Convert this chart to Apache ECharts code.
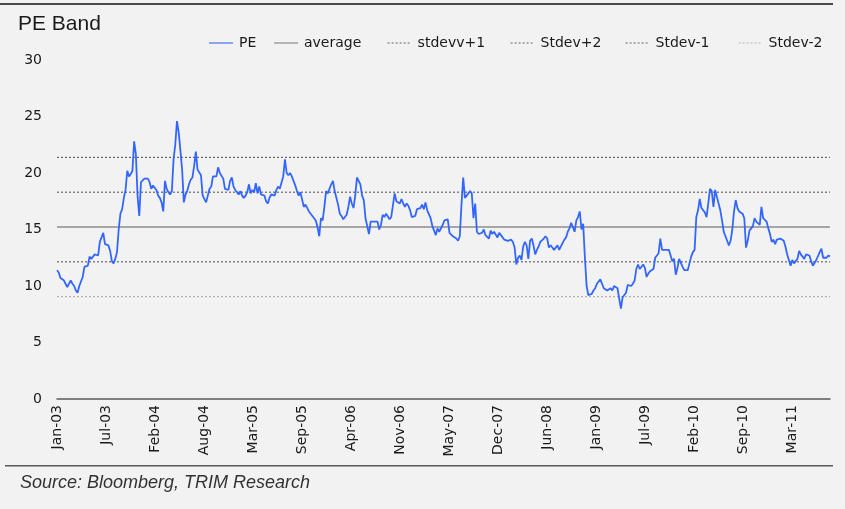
<!DOCTYPE html>
<html>
<head>
<meta charset="utf-8">
<script src="https://cdn.jsdelivr.net/npm/echarts@6/dist/echarts.min.js"></script>
<style>
html,body{margin:0;padding:0;background:#f2f2f2;}
#chart{width:845px;height:509px;}
</style>
</head>
<body>
<div id="chart"></div>
<script>
// Weekly PE readings, starting first week of Jan 2003
const peWeekly = [
11.4, 11.2, 10.7, 10.6, 10.5, 10.2, 9.9, 9.9, 10.5, 10.2,
10.0, 9.6, 9.4, 10.0, 10.0, 10.8, 11.7, 11.8, 11.8, 12.6,
12.4, 12.5, 12.8, 12.7, 12.7, 13.9, 13.8, 14.7, 13.7, 13.6,
13.6, 13.1, 12.2, 12.0, 12.4, 13.0, 15.0, 16.4, 16.8, 17.8,
18.5, 20.2, 19.7, 19.9, 20.2, 22.8, 21.7, 18.0, 16.2, 19.2,
19.3, 19.5, 19.6, 19.5, 19.2, 18.6, 18.9, 19.0, 18.5, 18.0,
17.8, 17.4, 16.6, 19.3, 18.6, 18.3, 18.1, 18.4, 21.2, 22.5,
24.6, 23.6, 22.0, 20.3, 17.4, 18.1, 18.4, 19.0,
19.4, 19.6, 20.6, 21.9, 20.3, 20.4, 19.8, 18.0, 17.9, 17.4,
17.5, 18.6, 18.8, 19.7, 19.6, 19.7, 20.5, 20.0, 20.1, 19.5,
18.6, 18.6, 18.5, 19.3, 19.6, 18.8, 18.5, 18.3, 18.1, 18.4,
18.0, 17.8, 18.0, 18.3, 19.0, 18.2, 18.5, 18.3, 19.1, 18.2,
18.8, 18.1, 18.2, 18.0, 17.5, 17.3, 17.8, 18.1, 18.2, 18.0,
18.5, 18.8, 18.6, 18.6, 19.7, 21.2, 20.0, 19.8, 20.0, 19.7,
19.6, 18.9, 18.4, 18.0, 18.3, 18.4, 17.0, 17.2, 17.2, 16.6,
16.5, 16.2, 16.0, 15.8, 15.2, 14.4,
16.0, 15.8, 17.0, 18.4, 18.2, 18.3, 19.0, 19.3, 18.4, 18.4,
17.2, 16.4, 16.2, 15.9, 16.1, 16.3, 17.0, 17.9, 17.3, 16.9,
18.0, 19.6, 19.3, 19.0, 18.0, 17.6, 16.0, 15.3, 14.6, 15.7,
15.8, 15.7, 15.6, 15.7, 15.0, 15.4, 16.3, 16.1, 16.4, 16.3,
15.9, 16.1, 16.2, 18.2, 17.5, 17.5, 17.3, 17.7, 17.3, 17.0,
17.3, 17.1, 16.7, 16.1, 16.2, 16.2, 16.8, 16.7, 16.9, 17.2,
16.8, 17.4, 16.7, 16.7, 16.0, 15.3, 15.2, 14.5, 15.1, 14.8,
14.9, 15.4, 15.8, 15.8, 15.9, 14.7,
14.6, 14.4, 14.4, 14.2, 14.0, 14.4, 17.2, 19.6, 17.8, 18.0,
18.1, 18.4, 18.2, 16.0, 17.3, 14.8, 14.6, 14.5, 14.7, 15.0,
14.5, 14.5, 14.2, 14.9, 14.6, 14.8, 14.7, 14.3, 14.7, 14.5,
14.5, 14.1, 14.1, 14.0, 13.9, 14.1, 13.9, 13.4, 11.9, 12.5,
12.7, 12.3, 13.5, 13.9, 13.6, 12.4, 14.0, 14.2, 13.6, 12.8,
13.2, 13.5, 13.9, 14.0, 14.2, 14.4, 14.2, 13.4, 13.6, 13.4,
13.2, 13.3, 13.6, 13.2, 13.5, 13.5, 14.1, 14.3, 14.8, 15.1,
15.6, 15.7, 14.8, 15.8, 16.1, 16.6,
15.0, 15.5, 12.5, 10.0, 9.2, 9.1, 9.3, 9.6, 9.8, 10.2,
10.1, 10.6, 10.2, 9.8, 9.9, 9.6, 9.5, 9.8, 9.6, 10.0,
9.9, 9.8, 9.7, 8.0, 9.0, 9.1, 9.4, 10.1, 10.0, 10.0,
10.2, 10.5, 11.5, 11.9, 11.5, 11.5, 11.9, 11.6, 10.8, 11.1,
11.3, 11.2, 11.5, 12.5, 12.6, 12.9, 14.2, 13.2, 13.2, 13.2,
13.2, 13.2, 12.7, 12.2, 12.4, 11.0, 11.6, 12.4, 12.3, 11.7,
11.4, 11.3, 11.4, 12.0, 12.6, 13.0, 13.2, 16.1, 16.7, 17.7,
16.9, 16.9, 16.5, 16.1, 16.2, 18.6,
18.4, 17.0, 18.5, 18.6, 17.3, 16.7, 15.8, 14.8, 14.8, 14.0,
13.6, 14.0, 15.0, 16.6, 17.6, 16.9, 16.6, 16.5, 16.4, 16.0,
13.4, 14.0, 14.9, 15.0, 15.3, 16.0, 15.7, 15.6, 15.4, 17.0,
16.0, 16.0, 15.7, 15.1, 14.6, 13.9, 14.1, 13.7, 14.1, 14.0,
14.2, 14.1, 14.0, 13.5, 12.8, 12.3, 11.8, 12.3, 12.0, 12.1,
12.4, 13.1, 12.8, 12.9, 12.4, 12.8, 12.8, 12.7, 12.2, 11.8,
11.9, 12.3, 12.4, 13.0, 13.3, 12.5, 12.5, 12.5, 12.7, 12.6
];

// Band levels
const averagePE = 15.22;
const stdevPlus1 = 18.30;
const stdevPlus2 = 21.38;
const stdevMinus1 = 12.14;
const stdevMinus2 = 9.06;

// X tick labels (one every ~6.6 months)
const xTickLabels = ['Jan-03','Jul-03','Feb-04','Aug-04','Mar-05','Sep-05','Apr-06','Nov-06',
  'May-07','Dec-07','Jun-08','Jan-09','Jul-09','Feb-10','Sep-10','Mar-11'];
const yTicks = [0, 5, 10, 15, 20, 25, 30];

const seriesNames = ['PE', 'average', 'stdevv+1', 'Stdev+2', 'Stdev-1', 'Stdev-2'];

const lastIdx = peWeekly.length - 1;
const tickStepWeeks = 28.62;
const FONT = 'DejaVu Sans';

function flat(v) { return [[0, v], [lastIdx, v]]; }

const chart = echarts.init(document.getElementById('chart'), null, {renderer: 'canvas'});

const legendLefts = [203, 268, 382, 505, 620, 733];
const legendLineColors = ['#8aa6f2', '#b4b4b4', '#666666', '#666666', '#666666', '#b0b0b0'];
const legends = seriesNames.map((n, i) => ({
  data: [n],
  left: legendLefts[i],
  top: 31,
  itemWidth: 24,
  itemHeight: 14,
  itemGap: 0,
  selectedMode: false,
  itemStyle: {opacity: 0},
  lineStyle: {color: legendLineColors[i], width: i < 2 ? 2 : 1.2},
  textStyle: {fontFamily: FONT, fontSize: 14, color: '#1a1a1a', padding: [0, 0, 0, 1]}
}));

const option = {
  backgroundColor: '#f2f2f2',
  animation: false,
  title: {
    text: 'PE Band',
    left: 13,
    top: 9,
    textStyle: {fontFamily: 'Liberation Sans', fontSize: 21, fontWeight: 'normal', color: '#1a1a1a'}
  },
  legend: legends,
  grid: {left: 57, right: 15, top: 60, bottom: 110, containLabel: false},
  xAxis: {
    type: 'value',
    min: 0,
    max: lastIdx,
    interval: tickStepWeeks,
    axisLine: {show: true, lineStyle: {color: '#5a5a5a', width: 1.5}},
    axisTick: {show: false},
    splitLine: {show: false},
    axisLabel: {
      rotate: 90,
      margin: 6,
      showMaxLabel: false,
      fontFamily: FONT,
      fontSize: 14,
      color: '#1a1a1a',
      formatter: function (v) {
        const k = Math.round(v / tickStepWeeks);
        return Math.abs(v - k * tickStepWeeks) < 0.01 && xTickLabels[k] ? xTickLabels[k] : '';
      }
    }
  },
  yAxis: {
    type: 'value',
    min: yTicks[0],
    max: yTicks[yTicks.length - 1],
    interval: 5,
    axisLine: {show: false},
    axisTick: {show: false},
    splitLine: {show: false},
    axisLabel: {margin: 15, fontFamily: FONT, fontSize: 14, color: '#1a1a1a'}
  },
  series: [
    {
      name: seriesNames[0], type: 'line', symbol: 'none', z: 5,
      data: peWeekly.map((v, i) => [i, v]),
      lineStyle: {color: '#3366ff', width: 1.8},
      itemStyle: {color: '#3366ff'}
    },
    {
      name: seriesNames[1], type: 'line', symbol: 'none', z: 3,
      data: flat(averagePE),
      lineStyle: {color: '#8c8c8c', width: 1.5},
      itemStyle: {color: '#8c8c8c'}
    },
    {
      name: seriesNames[2], type: 'line', symbol: 'none', z: 3,
      data: flat(stdevPlus1),
      lineStyle: {color: '#666666', width: 1.2, type: [2, 2]},
      itemStyle: {color: '#666666'}
    },
    {
      name: seriesNames[3], type: 'line', symbol: 'none', z: 3,
      data: flat(stdevPlus2),
      lineStyle: {color: '#666666', width: 1.2, type: [2, 2]},
      itemStyle: {color: '#666666'}
    },
    {
      name: seriesNames[4], type: 'line', symbol: 'none', z: 3,
      data: flat(stdevMinus1),
      lineStyle: {color: '#666666', width: 1.2, type: [2, 2]},
      itemStyle: {color: '#666666'}
    },
    {
      name: seriesNames[5], type: 'line', symbol: 'none', z: 3,
      data: flat(stdevMinus2),
      lineStyle: {color: '#b0b0b0', width: 1.2, type: [2, 2]},
      itemStyle: {color: '#b0b0b0'}
    }
  ],
  graphic: [
    {type: 'rect', left: 0, top: 3, shape: {width: 833, height: 2}, style: {fill: '#4a4a4a'}},
    {type: 'rect', left: 5, top: 465, shape: {width: 828, height: 1.5}, style: {fill: '#5a5a5a'}},
    {
      type: 'text', left: 20, top: 474,
      style: {
        text: 'Source: Bloomberg, TRIM Research',
        fontFamily: '"Liberation Sans Narrow", "Liberation Sans", sans-serif',
        fontStyle: 'italic', fontSize: 18, fill: '#333333'
      }
    }
  ]
};

chart.setOption(option);
</script>
</body>
</html>
